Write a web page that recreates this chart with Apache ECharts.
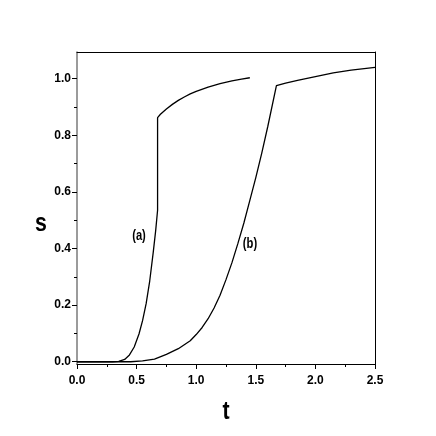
<!DOCTYPE html>
<html>
<head>
<meta charset="utf-8">
<script src="https://cdn.jsdelivr.net/npm/echarts@6/dist/echarts.min.js"></script>
<style>
html,body{margin:0;padding:0;background:#fff;}
#c{width:436px;height:436px;}
</style>
</head>
<body>
<div id="c"></div>
<script>
// Curve (a)
const tA = [0, 0.30, 0.35, 0.40, 0.44, 0.48, 0.52, 0.55, 0.58, 0.61, 0.64, 0.66, 0.676,
            0.676, 0.70, 0.75, 0.80, 0.85, 0.90, 0.95, 1.00, 1.10, 1.20, 1.30, 1.38, 1.45];
const sA = [0, 0, 0.0012, 0.008, 0.024, 0.052, 0.098, 0.145, 0.205, 0.285, 0.388, 0.463, 0.535,
            0.862, 0.874, 0.893, 0.909, 0.923, 0.935, 0.946, 0.955, 0.970, 0.982, 0.992, 0.998, 1.003];
// Curve (b)
const tB = [0, 0.45, 0.55, 0.65, 0.75, 0.85, 0.95, 1.00, 1.05, 1.10, 1.15, 1.20, 1.25, 1.30, 1.35, 1.40, 1.45,
            1.50, 1.55, 1.60, 1.673, 1.75, 1.85, 2.00, 2.15, 2.30, 2.50];
const sB = [0, 0, 0.003, 0.009, 0.026, 0.046, 0.074, 0.096, 0.121, 0.152, 0.19, 0.235, 0.29, 0.35, 0.418, 0.49, 0.57,
            0.65, 0.737, 0.83, 0.975, 0.984, 0.994, 1.007, 1.02, 1.03, 1.04];
// Ticks
const xMajor = [0, 0.5, 1.0, 1.5, 2.0, 2.5];
const xMinor = [0.25, 0.75, 1.25, 1.75, 2.25];
const yMajor = [0, 0.2, 0.4, 0.6, 0.8, 1.0];
const yMinor = [0.1, 0.3, 0.5, 0.7, 0.9];
const seriesLabels = ['(a)', '(b)'];
const xTitle = 't';
const yTitle = 's';

const FONT = '"Liberation Sans", Arial, sans-serif';
const X_MIN = 0, X_MAX = 2.5, Y_MIN = -0.008, Y_MAX = 1.094;

const chart = echarts.init(document.getElementById('c'), null, {renderer: 'canvas'});
const zip = (a, b) => a.map((v, i) => [v, b[i]]);

chart.setOption({
  animation: false,
  backgroundColor: '#fff',
  grid: {left: 77, right: 61, top: 52, bottom: 72, containLabel: false},
  xAxis: [
    {
      type: 'value', min: X_MIN, max: X_MAX, position: 'bottom',
      axisLine: {show: true, onZero: false, lineStyle: {color: '#000', width: 1}},
      axisTick: {show: true, inside: false, length: 5, customValues: xMajor, lineStyle: {color: '#000', width: 1}},
      axisLabel: {show: true, customValues: xMajor, margin: 11, color: '#000', fontFamily: FONT, fontWeight: 'bold', fontSize: 12,
        formatter: v => v.toFixed(1)},
      splitLine: {show: false}
    },
    {
      type: 'value', min: X_MIN, max: X_MAX, position: 'bottom',
      axisLine: {show: false, onZero: false},
      axisTick: {show: true, inside: false, length: 3, customValues: xMinor, lineStyle: {color: '#000', width: 1}},
      axisLabel: {show: false}, splitLine: {show: false}
    },
    {
      type: 'value', min: X_MIN, max: X_MAX, position: 'top',
      axisLine: {show: true, onZero: false, lineStyle: {color: '#000', width: 1}},
      axisTick: {show: false}, axisLabel: {show: false}, splitLine: {show: false}
    }
  ],
  yAxis: [
    {
      type: 'value', min: Y_MIN, max: Y_MAX, position: 'left',
      axisLine: {show: true, onZero: false, lineStyle: {color: '#7a7a7a', width: 1.5}},
      axisTick: {show: true, inside: false, length: 5, customValues: yMajor, lineStyle: {color: '#000', width: 1}},
      axisLabel: {show: true, customValues: yMajor, margin: 6, color: '#000', fontFamily: FONT, fontWeight: 'bold', fontSize: 12,
        formatter: v => v.toFixed(1)},
      splitLine: {show: false}
    },
    {
      type: 'value', min: Y_MIN, max: Y_MAX, position: 'left',
      axisLine: {show: false, onZero: false},
      axisTick: {show: true, inside: false, length: 3, customValues: yMinor, lineStyle: {color: '#000', width: 1}},
      axisLabel: {show: false}, splitLine: {show: false}
    },
    {
      type: 'value', min: Y_MIN, max: Y_MAX, position: 'right',
      axisLine: {show: true, onZero: false, lineStyle: {color: '#000', width: 1}},
      axisTick: {show: false}, axisLabel: {show: false}, splitLine: {show: false}
    }
  ],
  series: [
    {
      name: seriesLabels[0], type: 'line', xAxisIndex: 0, yAxisIndex: 0,
      data: zip(tA, sA), showSymbol: false, symbol: 'none', smooth: false,
      lineStyle: {color: '#000', width: 1.3}
    },
    {
      name: seriesLabels[1], type: 'line', xAxisIndex: 0, yAxisIndex: 0,
      data: zip(tB, sB), showSymbol: false, symbol: 'none', smooth: false,
      lineStyle: {color: '#000', width: 1.3}
    }
  ]
});

chart.setOption({
  graphic: [
    {type: 'text', x: 41, y: 224, scaleX: 0.82, style: {text: yTitle, fill: '#000', font: 'bold 26px ' + FONT, align: 'center', verticalAlign: 'middle'}},
    {type: 'text', x: 226, y: 412, scaleX: 0.82, style: {text: xTitle, fill: '#000', font: 'bold 26px ' + FONT, align: 'center', verticalAlign: 'middle'}},
    {type: 'text', x: 139, y: 236, scaleX: 0.8, style: {text: seriesLabels[0], fill: '#000', font: 'bold 14px ' + FONT, align: 'center', verticalAlign: 'middle'}},
    {type: 'text', x: 250, y: 244.5, scaleX: 0.8, style: {text: seriesLabels[1], fill: '#000', font: 'bold 14px ' + FONT, align: 'center', verticalAlign: 'middle'}}
  ]
});
</script>
</body>
</html>
